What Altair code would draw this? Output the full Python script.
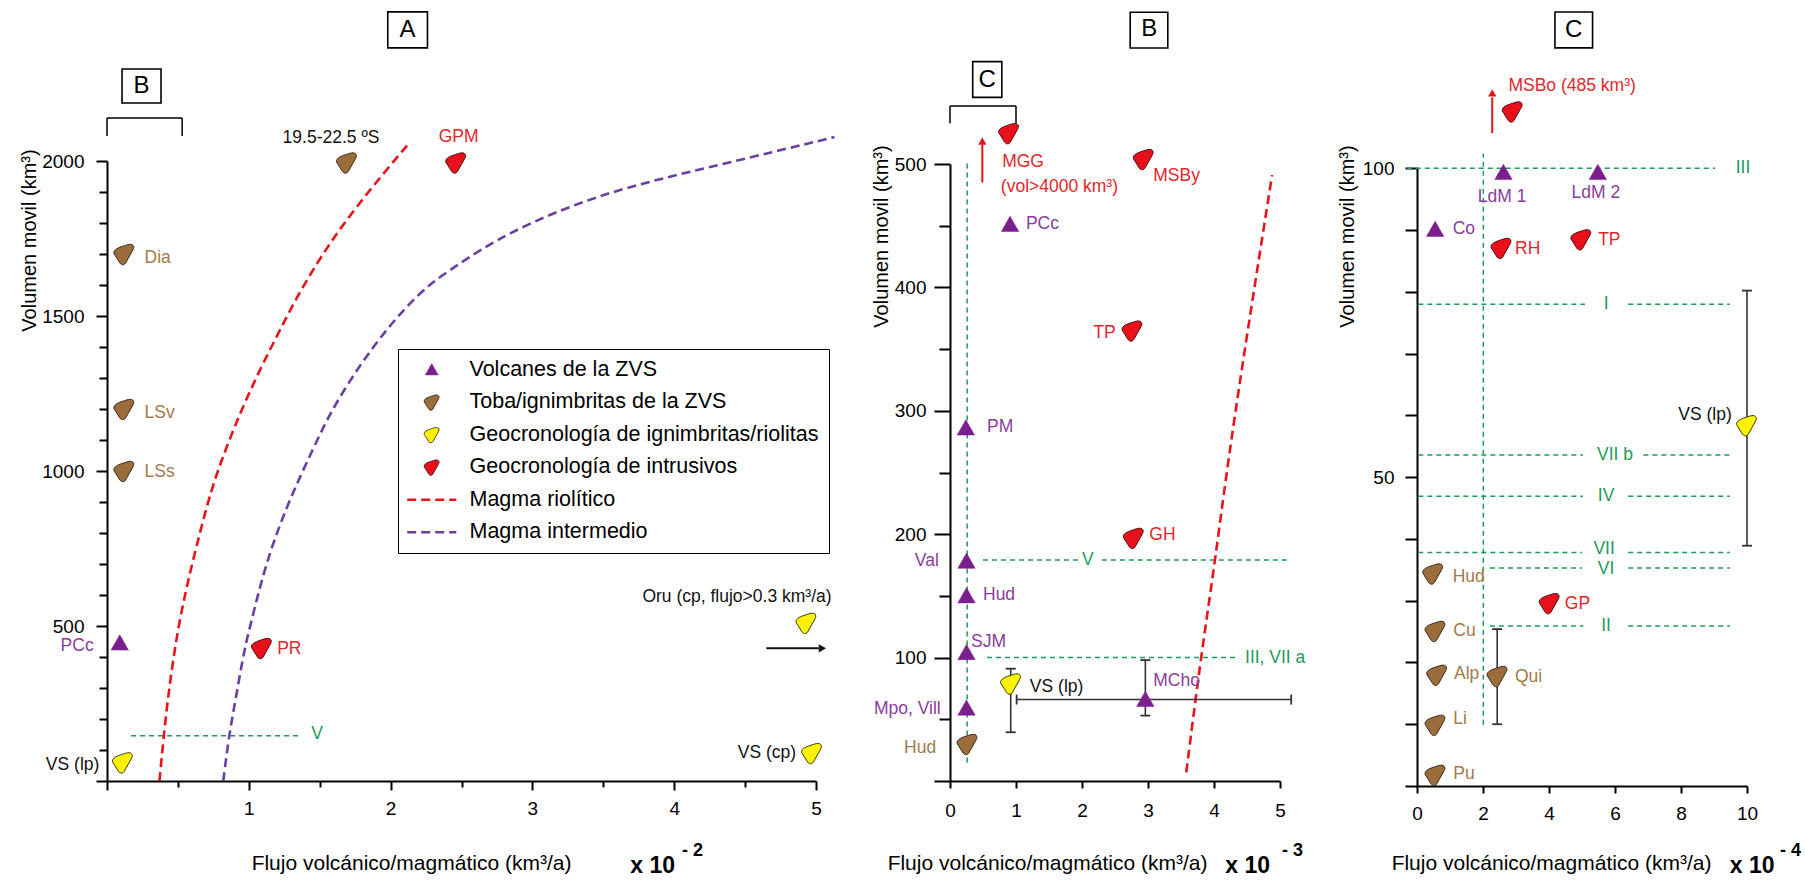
import altair as alt
import pandas as pd

FONT = "Liberation Sans, Arial, sans-serif"

TIPOS = ["Volcanes de la ZVS", "Toba/ignimbritas de la ZVS",
         "Geocronología de ignimbritas/riolitas", "Geocronología de intrusivos",
         "Magma riolítico", "Magma intermedio"]
VOL, TOB, IGN, INT, MRI, MIN = TIPOS

# ---------------- Panel A (x 10^-2) ----------------
A_name = ["19.5-22.5 ºS", "GPM", "Dia", "LSv", "LSs", "PCc", "PR", "VS (lp)", "Oru", "VS (cp)"]
A_tipo = [TOB, INT, TOB, TOB, TOB, VOL, INT, IGN, IGN, IGN]
A_x = [1.69, 2.46, 0.12, 0.12, 0.12, 0.09, 1.09, 0.11, 4.93, 4.97]
A_y = [1995, 1995, 1700, 1200, 1000, 445, 429, 60, 510, 90]

A_rio_x = [0.37, 0.40, 0.43, 0.50, 0.60, 0.72, 0.80, 0.89, 0.99, 1.10, 1.22, 1.34, 1.48, 1.62,
           1.78, 1.95, 2.12]
A_rio_y = [0, 146, 271, 500, 703, 917, 1025, 1132, 1240, 1347, 1455, 1562, 1670, 1767, 1864, 1960, 2052]
A_int_x = [0.82, 0.86, 0.91, 0.97, 1.01, 1.12, 1.25, 1.34, 1.45, 1.55, 1.67, 1.81, 1.95, 2.11, 2.28, 2.45,
           2.81, 3.48, 4.26, 5.13]
A_int_y = [0, 146, 271, 428, 500, 703, 864, 960, 1068, 1165, 1261, 1358, 1444, 1530, 1605, 1658, 1767,
           1897, 1981, 2077]

A_lb_t = ["19.5-22.5 ºS", "GPM", "Dia", "LSv", "LSs", "PCc", "PR", "VS (lp)", "V",
          "Oru (cp, flujo>0.3 km³/a)", "VS (cp)"]
A_lb_x = [1.58, 2.48, 0.265, 0.265, 0.265, -0.094, 1.20, -0.054, 1.44, 5.11, 4.86]
A_lb_y = [2074, 2077, 1687, 1187, 997, 437, 426, 52, 152, 595, 91]
A_lb_c = ["k", "r", "b", "b", "b", "p", "r", "k", "g", "k", "k"]
A_lb_a = ["center", "center", "left", "left", "left", "right", "left", "right", "left", "right", "right"]

A_gr_x1 = [0.17]; A_gr_x2 = [1.37]; A_gr_y1 = [146]; A_gr_y2 = [146]
A_br_x1 = [0, 0, 0.53]; A_br_x2 = [0.53, 0, 0.53]; A_br_y1 = [2139, 2081, 2081]; A_br_y2 = [2139, 2139, 2139]
A_box_x1 = [1.98, 0.106]; A_box_x2 = [2.26, 0.381]; A_box_y1 = [2365, 2187]; A_box_y2 = [2481, 2297]
A_let_t = ["A", "B"]; A_let_x = [2.12, 0.244]; A_let_y = [2423, 2242]
A_arrow_x1 = [4.65]; A_arrow_x2 = [5.02]; A_arrow_y = [428]; A_head_x = [5.045]
A_exp_t = ["x 10", "- 2"]; A_exp_x = [3.69, 4.055]; A_exp_y = [-274, -226]; A_exp_s = ["b", "s"]

# ---------------- Panel B (x 10^-3) ----------------
B_name = ["MGG", "MSBy", "PCc", "TP", "PM", "Val", "Hud", "SJM", "Mpo, Vill", "Hud", "VS (lp)", "MCho", "GH"]
B_tipo = [INT, INT, VOL, INT, VOL, VOL, VOL, VOL, VOL, TOB, IGN, VOL, INT]
B_x = [0.89, 2.93, 0.91, 2.76, 0.24, 0.25, 0.25, 0.25, 0.25, 0.26, 0.92, 2.96, 2.78]
B_y = [525, 504, 451, 365, 286, 178, 150, 104, 59, 30, 79, 66, 197]

B_rio_x = [3.58, 3.80, 4.02, 4.26, 4.88]
B_rio_y = [7, 100, 179, 280, 491]

B_lb_t = ["MGG", "(vol>4000 km³)", "MSBy", "PCc", "TP", "PM", "Val", "Hud", "SJM", "Mpo, Vill",
          "Hud", "VS (lp)", "MCho", "GH", "V", "III, VII a"]
B_lb_x = [0.79, 0.77, 3.08, 1.15, 2.51, 0.56, -0.17, 0.50, 0.32, -0.14, -0.21, 1.21, 3.08, 3.02, 2.09, 4.47]
B_lb_y = [502, 481, 490, 451, 363, 287, 178, 151, 113, 58, 27, 76, 81, 199, 179, 100]
B_lb_c = ["r", "r", "r", "p", "r", "p", "p", "p", "p", "p", "b", "k", "p", "r", "g", "g"]
B_lb_a = ["left", "left", "left", "left", "right", "left", "right", "left", "left", "right",
          "right", "left", "left", "left", "center", "left"]

B_gr_x1 = [0.26, 0.50, 2.30, 0.56]; B_gr_x2 = [0.26, 1.94, 5.16, 4.34]
B_gr_y1 = [15, 179, 179, 100]; B_gr_y2 = [502, 179, 179, 100]
B_ebv_x = [0.92, 2.96]; B_ebv_y1 = [39.5, 53]; B_ebv_y2 = [91, 98]
B_ebh_y = [66]; B_ebh_x1 = [1.01]; B_ebh_x2 = [5.17]
B_br_x1 = [0, 0, 1.0]; B_br_x2 = [1.0, 0, 1.0]; B_br_y1 = [547, 533, 533]; B_br_y2 = [547, 547, 547]
B_box_x1 = [2.73, 0.344]; B_box_x2 = [3.30, 0.785]; B_box_y1 = [594, 554]; B_box_y2 = [623, 583]
B_let_t = ["B", "C"]; B_let_x = [3.02, 0.565]; B_let_y = [609, 568]
B_arrow_x = [0.49]; B_arrow_y1 = [485]; B_arrow_y2 = [516]; B_head_y = [518.6]
B_exp_t = ["x 10", "- 3"]; B_exp_x = [4.17, 5.03]; B_exp_y = [-69, -57]; B_exp_s = ["b", "s"]

# ---------------- Panel C (x 10^-4) ----------------
C_name = ["MSBo", "LdM 1", "LdM 2", "Co", "RH", "TP", "VS (lp)", "Hud", "GP", "Cu", "Alp", "Qui", "Li", "Pu"]
C_tipo = [INT, VOL, VOL, VOL, INT, INT, IGN, TOB, INT, TOB, TOB, TOB, TOB, TOB]
C_x = [2.89, 2.62, 5.48, 0.55, 2.55, 4.97, 9.99, 0.48, 4.01, 0.55, 0.60, 2.43, 0.55, 0.55]
C_y = [109.2, 99.3, 99.3, 90.1, 87.1, 88.5, 58.4, 34.4, 29.6, 25.1, 18.0, 17.8, 9.9, 1.8]

C_lb_t = ["MSBo (485 km³)", "LdM 1", "LdM 2", "Co", "RH", "TP", "VS (lp)", "Hud", "GP", "Cu", "Alp",
          "Qui", "Li", "Pu", "III", "I", "VII b", "IV", "VII", "VI", "II"]
C_lb_x = [2.77, 2.58, 5.42, 1.08, 2.97, 5.49, 9.54, 1.08, 4.48, 1.10, 1.12, 2.97, 1.10, 1.10,
          9.88, 5.73, 6.0, 5.73, 5.67, 5.73, 5.73]
C_lb_y = [113.4, 95.4, 96.0, 90.1, 86.9, 88.4, 60.1, 33.9, 29.5, 25.1, 18.2, 17.7, 10.8, 1.9,
          100, 78.0, 53.6, 46.9, 38.4, 35.2, 25.9]
C_lb_c = ["r", "p", "p", "p", "r", "r", "k", "b", "r", "b", "b", "b", "b", "b",
          "g", "g", "g", "g", "g", "g", "g"]
C_lb_a = ["left", "center", "center", "left", "left", "left", "right", "left", "left", "left", "left",
          "left", "left", "left", "center", "center", "center", "center", "center", "center", "center"]

C_gr_x1 = [2.01, -0.31, 0.04, 6.40, 0.04, 6.86, 0.04, 6.40, 0.04, 6.40, 2.21, 6.40, 2.21, 6.40]
C_gr_x2 = [2.01, 9.03, 5.09, 9.48, 5.03, 9.48, 5.03, 9.48, 5.00, 9.48, 5.00, 9.48, 5.04, 9.48]
C_gr_y1 = [9.9, 100, 78.0, 78.0, 53.6, 53.6, 46.9, 46.9, 37.8, 37.8, 35.3, 35.3, 25.9, 25.9]
C_gr_y2 = [102.4, 100, 78.0, 78.0, 53.6, 53.6, 46.9, 46.9, 37.8, 37.8, 35.3, 35.3, 25.9, 25.9]
C_ebv_x = [10.0, 2.43]; C_ebv_y1 = [38.9, 10.0]; C_ebv_y2 = [80.2, 25.4]
C_box_x1 = [4.18]; C_box_x2 = [5.32]; C_box_y1 = [119.5]; C_box_y2 = [125.3]
C_let_t = ["C"]; C_let_x = [4.75]; C_let_y = [122.4]
C_arrow_x = [2.28]; C_arrow_y1 = [105.7]; C_arrow_y2 = [111.5]; C_head_y = [112.2]
C_exp_t = ["x 10", "- 4"]; C_exp_x = [9.48, 11.0]; C_exp_y = [-13, -10.5]; C_exp_s = ["b", "s"]

AXIS_TITLE_X = "Flujo volcánico/magmático (km³/a)"
AXIS_TITLE_Y = "Volumen movil (km³)"

# ---------------- shared encodings ----------------
TRI = "M0,-0.78L0.82,0.66L-0.82,0.66Z"
PEBBLE = ("M-0.95,-0.05C-1,-0.45 -0.55,-0.6 0.25,-0.85C0.8,-1.05 1.05,-0.75 0.85,-0.4"
          "L0.15,0.85C0,1.1 -0.3,1.05 -0.45,0.75Z")
LSYM = "M-3.1,0L3.1,0"

LEG = alt.Legend(title=None, orient="none", legendX=398, legendY=349, direction="vertical",
                 strokeColor="black", fillColor="white", padding=10,
                 symbolSize=250, symbolOffset=13, labelOffset=27,
                 labelFont=FONT, labelFontSize=21.5, labelColor="black", labelLimit=600,
                 rowPadding=9.5)

FILL = alt.Fill("tipo:N", scale=alt.Scale(domain=TIPOS, range=["#7b1f8e", "#9c6d3c", "#fff200", "#e8101a",
                                                               "transparent", "transparent"]), legend=LEG)
STROKE = alt.Stroke("tipo:N", scale=alt.Scale(domain=TIPOS, range=["#7b1f8e", "#3a2a1a", "#3a3a10", "#4a1010",
                                                                   "#e8141c", "#6b3fa0"]), legend=LEG)
SHAPE = alt.Shape("tipo:N", scale=alt.Scale(domain=TIPOS, range=[TRI, PEBBLE, PEBBLE, PEBBLE, LSYM, LSYM]),
                  legend=LEG)
DASH = alt.StrokeDash("tipo:N", scale=alt.Scale(domain=TIPOS, range=[[1, 0], [1, 0], [1, 0], [1, 0], [9, 5], [9, 5]]),
                      legend=LEG)
SW = alt.StrokeWidth("tipo:N", scale=alt.Scale(type="ordinal", domain=TIPOS, range=[0.5, 1, 1, 1, 2.6, 2.6]),
                     legend=LEG)
TCOL = alt.Color("c:N", scale=alt.Scale(domain=["p", "b", "r", "g", "k"],
                                        range=["#8a3d9c", "#a27a4c", "#e3262c", "#1f9a5a", "#111111"]),
                 legend=None)
GREEN = "#1f9a5a"


def xaxis(offset, values, tick, pad=0, expr=None, tx=0, ty=0, labels=True, domain=True, title=True):
    kw = dict(orient="bottom", offset=offset, values=values, tickSize=tick, tickWidth=2, tickColor="black",
              domain=domain, grid=False, labels=labels)
    if domain:
        kw.update(domainColor="black", domainWidth=2)
    if labels:
        kw.update(format="d", labelFont=FONT, labelFontSize=19, labelColor="black", labelPadding=pad,
                  labelBaseline="middle", labelAlign="center", labelAngle=0, labelFlush=False,
                  labelOverlap=False)
        if expr:
            kw["labelExpr"] = expr
    if title:
        kw.update(title=AXIS_TITLE_X, titleFont=FONT, titleFontSize=21, titleFontWeight="normal",
                  titleColor="black", titleX=tx, titleY=ty, titleAlign="center", titleBaseline="middle",
                  titleAngle=0)
    else:
        kw["title"] = None
    return alt.Axis(**kw)


def yaxis(offset, values, tick, pad=0, expr=None, tx=0, ty=0, labels=True, domain=True, title=True):
    kw = dict(orient="left", offset=offset, values=values, tickSize=tick, tickWidth=2, tickColor="black",
              domain=domain, grid=False, labels=labels)
    if domain:
        kw.update(domainColor="black", domainWidth=2)
    if labels:
        kw.update(format="d", labelFont=FONT, labelFontSize=19, labelColor="black", labelPadding=pad,
                  labelBaseline="middle", labelAlign="right", labelAngle=0, labelFlush=False,
                  labelOverlap=False)
        if expr:
            kw["labelExpr"] = expr
    if title:
        kw.update(title=AXIS_TITLE_Y, titleFont=FONT, titleFontSize=20, titleFontWeight="normal",
                  titleColor="black", titleX=tx, titleY=ty, titleAlign="center", titleBaseline="middle",
                  titleAngle=270)
    else:
        kw["title"] = None
    return alt.Axis(**kw)


def build_panel(SX, SY, axX, axY, minX, minY, pts, lbl, green, curves=None, ebv=None, ebh=None,
                brackets=None, boxes=None, letters=None, exps=None, arrow_v=None, arrow_h=None):
    def X(f, axis=None):
        return alt.X(f, type="quantitative", scale=SX, axis=axis)

    def Y(f, axis=None):
        return alt.Y(f, type="quantitative", scale=SY, axis=axis)

    layers = []
    # green dashed reference lines (carry the minor-tick axes)
    layers.append(alt.Chart(green).mark_rule(color=GREEN, strokeWidth=1.5, strokeDash=[5, 4]).encode(
        x=X("x1", minX), x2=alt.X2("x2"), y=Y("y1", minY), y2=alt.Y2("y2")))
    if curves is not None:
        layers.append(alt.Chart(curves).mark_line(opacity=1, interpolate="basis").encode(
            x=X("x"), y=Y("y"), stroke=STROKE, strokeDash=DASH, strokeWidth=SW, order=alt.Order("i:Q")))
    if brackets is not None:
        layers.append(alt.Chart(brackets).mark_rule(color="black", strokeWidth=1.5).encode(
            x=X("x1"), x2=alt.X2("x2"), y=Y("y1"), y2=alt.Y2("y2")))
    if ebv is not None:
        layers.append(alt.Chart(ebv).mark_rule(color="#333333", strokeWidth=1.6).encode(
            x=X("x"), y=Y("y1"), y2=alt.Y2("y2")))
        layers.append(alt.Chart(ebv).mark_tick(orient="horizontal", size=10, thickness=1.8, color="#333333",
                                               opacity=1).encode(x=X("x"), y=Y("y1")))
        layers.append(alt.Chart(ebv).mark_tick(orient="horizontal", size=10, thickness=1.8, color="#333333",
                                               opacity=1).encode(x=X("x"), y=Y("y2")))
    if ebh is not None:
        layers.append(alt.Chart(ebh).mark_rule(color="#333333", strokeWidth=1.6).encode(
            x=X("x1"), x2=alt.X2("x2"), y=Y("y")))
        layers.append(alt.Chart(ebh).mark_tick(orient="vertical", size=10, thickness=1.8, color="#333333",
                                               opacity=1).encode(x=X("x1"), y=Y("y")))
        layers.append(alt.Chart(ebh).mark_tick(orient="vertical", size=10, thickness=1.8, color="#333333",
                                               opacity=1).encode(x=X("x2"), y=Y("y")))
    if arrow_v is not None:
        layers.append(alt.Chart(arrow_v).mark_rule(color="#e8141c", strokeWidth=2).encode(
            x=X("x"), y=Y("y1"), y2=alt.Y2("y2")))
        layers.append(alt.Chart(arrow_v).mark_point(shape="triangle-up", filled=True, size=70, color="#e8141c",
                                                    opacity=1).encode(x=X("x"), y=Y("yh")))
    if arrow_h is not None:
        layers.append(alt.Chart(arrow_h).mark_rule(color="#111111", strokeWidth=2).encode(
            x=X("x1"), x2=alt.X2("x2"), y=Y("y")))
        layers.append(alt.Chart(arrow_h).mark_point(shape="triangle-right", filled=True, size=70,
                                                    color="#111111", opacity=1).encode(x=X("xh"), y=Y("y")))
    # data points (carry the main axes)
    layers.append(alt.Chart(pts).mark_point(filled=True, opacity=1, size=450).encode(
        x=X("x", axX), y=Y("y", axY), fill=FILL, stroke=STROKE, shape=SHAPE, strokeWidth=SW,
        tooltip=["name:N", "tipo:N"]))
    for al in ["left", "right", "center"]:
        layers.append(alt.Chart(lbl).transform_filter(alt.datum.a == al).mark_text(
            font=FONT, fontSize=17.5, align=al, baseline="middle").encode(
            x=X("x"), y=Y("y"), text="t:N", color=TCOL))
    if boxes is not None:
        layers.append(alt.Chart(boxes).mark_rect(fill="white", stroke="black", strokeWidth=1.6).encode(
            x=X("x1"), x2=alt.X2("x2"), y=Y("y1"), y2=alt.Y2("y2")))
    if letters is not None:
        layers.append(alt.Chart(letters).mark_text(font=FONT, fontSize=24, align="center", baseline="middle",
                                                   color="black").encode(x=X("x"), y=Y("y"), text="t:N"))
    if exps is not None:
        layers.append(alt.Chart(exps).transform_filter(alt.datum.s == "b").mark_text(
            font=FONT, fontSize=23, fontWeight="bold", align="left", baseline="middle", color="black").encode(
            x=X("x"), y=Y("y"), text="t:N"))
        layers.append(alt.Chart(exps).transform_filter(alt.datum.s == "s").mark_text(
            font=FONT, fontSize=18, fontWeight="bold", align="left", baseline="middle", color="black").encode(
            x=X("x"), y=Y("y"), text="t:N"))
    return alt.layer(*layers).resolve_axis(x="independent", y="independent")


def df(**cols):
    return pd.DataFrame(cols)


# ---------------- Panel A ----------------
SAx = alt.Scale(domain=[0, 5], range=[107, 816], nice=False, zero=False)
SAy = alt.Scale(domain=[0, 2000], range=[781, 161], nice=False, zero=False)
curvesA = pd.concat([
    df(tipo=[MRI] * len(A_rio_x), x=A_rio_x, y=A_rio_y, i=list(range(len(A_rio_x)))),
    df(tipo=[MIN] * len(A_int_x), x=A_int_x, y=A_int_y, i=list(range(len(A_int_x)))),
])
panelA = build_panel(
    SAx, SAy,
    xaxis(-101, [0, 1, 2, 3, 4, 5], 9, pad=18, expr="datum.value > 0 ? datum.label : ''", tx=411, ty=82),
    yaxis(-107, [0, 500, 1000, 1500, 2000], 11, pad=12, expr="datum.value > 0 ? datum.label : ''", tx=-78, ty=240),
    xaxis(-101, [0.5, 1.5, 2.5, 3.5, 4.5], 6, labels=False, domain=False, title=False),
    yaxis(-107, [v for v in range(100, 2000, 100) if v % 500 != 0], 8, labels=False, domain=False, title=False),
    df(name=A_name, tipo=A_tipo, x=A_x, y=A_y),
    df(t=A_lb_t, x=A_lb_x, y=A_lb_y, c=A_lb_c, a=A_lb_a),
    df(x1=A_gr_x1, x2=A_gr_x2, y1=A_gr_y1, y2=A_gr_y2),
    curves=curvesA,
    brackets=df(x1=A_br_x1, x2=A_br_x2, y1=A_br_y1, y2=A_br_y2),
    boxes=df(x1=A_box_x1, x2=A_box_x2, y1=A_box_y1, y2=A_box_y2),
    letters=df(t=A_let_t, x=A_let_x, y=A_let_y),
    exps=df(t=A_exp_t, x=A_exp_x, y=A_exp_y, s=A_exp_s),
    arrow_h=df(x1=A_arrow_x1, x2=A_arrow_x2, y=A_arrow_y, xh=A_head_x),
)

# ---------------- Panel B ----------------
SBx = alt.Scale(domain=[0, 5], range=[950, 1280], nice=False, zero=False)
SBy = alt.Scale(domain=[0, 500], range=[781, 164], nice=False, zero=False)
curvesB = df(tipo=[MRI] * len(B_rio_x), x=B_rio_x, y=B_rio_y, i=list(range(len(B_rio_x))))
panelB = build_panel(
    SBx, SBy,
    xaxis(-101, [0, 1, 2, 3, 4, 5], 7, pad=22, tx=1047, ty=82),
    yaxis(-950, [0, 100, 200, 300, 400, 500], 16, pad=8, expr="datum.value > 0 ? datum.label : ''", tx=-69, ty=236),
    None,
    yaxis(-950, [50, 150, 250, 350, 450], 11, labels=False, domain=False, title=False),
    df(name=B_name, tipo=B_tipo, x=B_x, y=B_y),
    df(t=B_lb_t, x=B_lb_x, y=B_lb_y, c=B_lb_c, a=B_lb_a),
    df(x1=B_gr_x1, x2=B_gr_x2, y1=B_gr_y1, y2=B_gr_y2),
    curves=curvesB,
    ebv=df(x=B_ebv_x, y1=B_ebv_y1, y2=B_ebv_y2),
    ebh=df(y=B_ebh_y, x1=B_ebh_x1, x2=B_ebh_x2),
    brackets=df(x1=B_br_x1, x2=B_br_x2, y1=B_br_y1, y2=B_br_y2),
    boxes=df(x1=B_box_x1, x2=B_box_x2, y1=B_box_y1, y2=B_box_y2),
    letters=df(t=B_let_t, x=B_let_x, y=B_let_y),
    exps=df(t=B_exp_t, x=B_exp_x, y=B_exp_y, s=B_exp_s),
    arrow_v=df(x=B_arrow_x, y1=B_arrow_y1, y2=B_arrow_y2, yh=B_head_y),
)

# ---------------- Panel C ----------------
SCx = alt.Scale(domain=[0, 10], range=[1417, 1747], nice=False, zero=False)
SCy = alt.Scale(domain=[0, 100], range=[786, 168.3], nice=False, zero=False)
panelC = build_panel(
    SCx, SCy,
    xaxis(-96, [0, 2, 4, 6, 8, 10], 7, pad=20, tx=1551, ty=77),
    yaxis(-1417, list(range(0, 101, 10)), 12, pad=11,
          expr="datum.value == 50 || datum.value == 100 ? datum.label : ''", tx=-70, ty=236),
    None, None,
    df(name=C_name, tipo=C_tipo, x=C_x, y=C_y),
    df(t=C_lb_t, x=C_lb_x, y=C_lb_y, c=C_lb_c, a=C_lb_a),
    df(x1=C_gr_x1, x2=C_gr_x2, y1=C_gr_y1, y2=C_gr_y2),
    ebv=df(x=C_ebv_x, y1=C_ebv_y1, y2=C_ebv_y2),
    boxes=df(x1=C_box_x1, x2=C_box_x2, y1=C_box_y1, y2=C_box_y2),
    letters=df(t=C_let_t, x=C_let_x, y=C_let_y),
    exps=df(t=C_exp_t, x=C_exp_x, y=C_exp_y, s=C_exp_s),
    arrow_v=df(x=C_arrow_x, y1=C_arrow_y1, y2=C_arrow_y2, yh=C_head_y),
)

chart = alt.layer(panelA, panelB, panelC).resolve_scale(x="independent", y="independent").properties(
    width=1805, height=882, autosize=alt.AutoSizeParams(type="none"), padding=0,
    background="white",
).configure_view(stroke=None)

chart.save("out.html", embed_options={"renderer": "svg", "actions": False})
